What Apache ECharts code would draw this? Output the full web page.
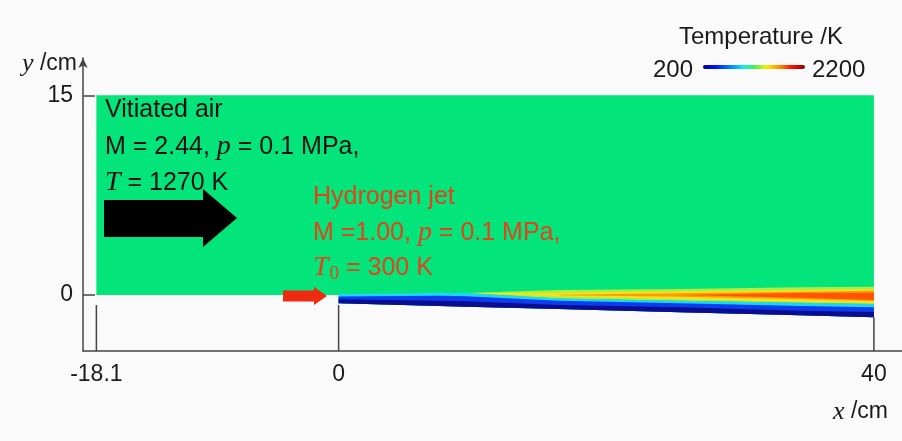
<!DOCTYPE html>
<html>
<head>
<meta charset="utf-8">
<script src="https://cdn.jsdelivr.net/npm/echarts@6/dist/echarts.min.js"></script>
<style>
html,body{margin:0;padding:0;background:#fafafa;}
#chart{width:902px;height:441px;}
</style>
</head>
<body>
<div id="chart"></div>
<script>
// ---- data (cm) ----
const xTickValues = [-18.1, 0, 40];
const yTickValues = [0, 15];
// computational domain outline
const domainX = [-18.1, 40, 40, 0, 0, -18.1];
const domainY = [15, 15, -1.67, -0.62, 0, 0];
// stations along the mixing layer
const xStations = [0, 7.5, 9.5, 16.5, 25.5, 34.5, 40];
const wallY     = [-0.62, -0.82, -0.87, -1.05, -1.29, -1.52, -1.67];
const navyTop   = [-0.32, -0.43, -0.47, -0.75, -0.92, -1.18, -1.28];
const blueTop   = [-0.10, -0.06, -0.08, -0.43, -0.62, -0.83, -0.92];
const cyanTop   = [0.08, 0.18, 0.16, -0.25, -0.43, -0.58, -0.68];
const warmTop   = [null, null, 0.16, 0.375, 0.45, 0.58, 0.63];
const yellowTop = [null, null, 0.16, 0.18, 0.28, 0.375, 0.43];
const yellowBot = [null, null, 0.16, -0.10, -0.32, -0.53, -0.62];
const orangeTop = [null, null, null, 0.02, 0.13, 0.25, 0.32];
const orangeBot = [null, null, null, -0.02, -0.13, -0.32, -0.45];
const redTop    = [null, null, null, null, 0.0, 0.15, 0.17];
const redBot    = [null, null, null, null, 0.0, -0.20, -0.375];
// x-axis marker lines (upper end)
const tickTopY = [-0.75, -0.75, -1.67];
// colour-bar range
const tempMin = 200, tempMax = 2200;

// ---- build ----
const bandTops = [warmTop, yellowTop, orangeTop, redTop, cyanTop, blueTop, navyTop];
const bandBots = [cyanTop, yellowBot, orangeBot, redBot, wallY, wallY, wallY];
const bandColors = ['#a8ef48', '#f2e31a', '#ff9a08', '#ff5500', '#1cd6f2', '#0b3cf0', '#0c0c8e'];

const chart = echarts.init(document.getElementById('chart'), null, {renderer: 'canvas'});
const axisColor = '#444';
const sans = 'Liberation Sans, Arial, Helvetica, sans-serif';
const serif = 'Liberation Serif, DejaVu Serif, serif';
const YMIN = -4.2;
const red = '#e4421c';

const option = {
  backgroundColor: '#fafafa',
  animation: false,
  grid: {left: 83, right: 0, top: 58, bottom: 90},
  xAxis: {
    type: 'value', min: -19.1, max: 42.1,
    axisLine: {show: true, onZero: false, lineStyle: {color: axisColor, width: 1.5}},
    axisTick: {show: false},
    splitLine: {show: false},
    axisLabel: {customValues: xTickValues, fontSize: 23, color: '#1a1a1a', fontFamily: sans, margin: 12,
      formatter: v => String(v)}
  },
  yAxis: {
    type: 'value', min: YMIN, max: 17.8,
    axisLine: {show: true, onZero: false, symbol: ['none', 'arrow'], symbolSize: [7, 10],
      lineStyle: {color: axisColor, width: 1.5}},
    axisTick: {show: true, inside: true, length: 12, customValues: yTickValues, lineStyle: {color: axisColor, width: 1.5}},
    splitLine: {show: false},
    axisLabel: {customValues: yTickValues, fontSize: 23, color: '#1a1a1a', fontFamily: sans, margin: 10,
      formatter: v => String(v)}
  },
  series: [
    {
      type: 'custom', clip: false, silent: true, z: 1,
      data: [[0, 0]],
      renderItem: function (params, api) {
        const pts = domainX.map((x, i) => api.coord([x, domainY[i]]));
        return {type: 'polygon', shape: {points: pts}, style: {fill: '#03e47b'}};
      }
    },
    {
      type: 'custom', clip: false, silent: true, z: 2,
      data: bandColors.map((c, i) => [i, 0]),
      renderItem: function (params, api) {
        const b = params.dataIndex;
        const top = bandTops[b], bot = bandBots[b];
        const up = [], low = [];
        for (let i = 0; i < xStations.length; i++) {
          if (top[i] === null) continue;
          up.push(api.coord([xStations[i], top[i]]));
          low.push(api.coord([xStations[i], bot[i]]));
        }
        return {type: 'polygon', shape: {points: up.concat(low.reverse())},
          style: {fill: bandColors[b]}};
      }
    },
    {
      type: 'custom', clip: false, silent: true, z: 3,
      data: xTickValues.map((x, i) => [x, tickTopY[i]]),
      renderItem: function (params, api) {
        const p1 = api.coord([api.value(0), api.value(1)]);
        const p2 = api.coord([api.value(0), YMIN]);
        return {type: 'line', shape: {x1: p1[0], y1: p1[1], x2: p2[0], y2: p2[1]},
          style: {stroke: axisColor, lineWidth: 1.5}};
      }
    }
  ],
  graphic: {
    elements: [
    // axis names
    {type: 'text', z: 100, x: 77, y: 64, style: {text: '{i|y} /cm', align: 'right', verticalAlign: 'middle',
      fontSize: 23, fontFamily: sans, fill: '#1a1a1a',
      rich: {i: {fontFamily: serif, fontStyle: 'italic', fontSize: 26, fill: '#1a1a1a'}}}},
    {type: 'text', z: 100, x: 888, y: 412, style: {text: '{i|x} /cm', align: 'right', verticalAlign: 'middle',
      fontSize: 23, fontFamily: sans, fill: '#1a1a1a',
      rich: {i: {fontFamily: serif, fontStyle: 'italic', fontSize: 26, fill: '#1a1a1a'}}}},
    // colour bar legend
    {type: 'text', z: 100, x: 761, y: 37, style: {text: 'Temperature /K', align: 'center', verticalAlign: 'middle',
      fontSize: 24, fontFamily: sans, fill: '#1a1a1a'}},
    {type: 'text', z: 100, x: 693, y: 70, style: {text: String(tempMin), align: 'right', verticalAlign: 'middle',
      fontSize: 24, fontFamily: sans, fill: '#1a1a1a'}},
    {type: 'text', z: 100, x: 812, y: 70, style: {text: String(tempMax), align: 'left', verticalAlign: 'middle',
      fontSize: 24, fontFamily: sans, fill: '#1a1a1a'}},
    {type: 'rect', z: 100, shape: {x: 703, y: 65, width: 102, height: 4, r: 2}, style: {fill: new echarts.graphic.LinearGradient(0, 0, 1, 0, [
      {offset: 0, color: '#000090'}, {offset: 0.12, color: '#0010ff'}, {offset: 0.3, color: '#00a0ff'},
      {offset: 0.4, color: '#10f0e0'}, {offset: 0.5, color: '#40f060'}, {offset: 0.62, color: '#f0f000'},
      {offset: 0.75, color: '#ff9000'}, {offset: 0.87, color: '#ff1000'}, {offset: 1, color: '#900000'}])}},
    // vitiated air annotation
    {type: 'text', z: 100, x: 105, y: 110, style: {text: 'Vitiated air', verticalAlign: 'middle',
      fontSize: 25, fontFamily: sans, fill: '#111'}},
    {type: 'text', z: 100, x: 105, y: 147, style: {text: 'M = 2.44, {i|p} = 0.1 MPa,', verticalAlign: 'middle',
      fontSize: 25, fontFamily: sans, fill: '#111',
      rich: {i: {fontFamily: serif, fontStyle: 'italic', fontSize: 28, fill: '#111'}}}},
    {type: 'text', z: 100, x: 105, y: 183, style: {text: '{i|T} = 1270 K', verticalAlign: 'middle',
      fontSize: 25, fontFamily: sans, fill: '#111',
      rich: {i: {fontFamily: serif, fontStyle: 'italic', fontSize: 28, fill: '#111'}}}},
    {type: 'polygon', z: 100, shape: {points: [[104, 200], [203, 200], [203, 189], [237, 218], [203, 247], [203, 237], [104, 237]]},
      style: {fill: '#000'}},
    // hydrogen jet annotation
    {type: 'text', z: 100, x: 313, y: 197, style: {text: 'Hydrogen jet', verticalAlign: 'middle',
      fontSize: 25, fontFamily: sans, fill: red}},
    {type: 'text', z: 100, x: 313, y: 233, style: {text: 'M =1.00, {i|p} = 0.1 MPa,', verticalAlign: 'middle',
      fontSize: 25, fontFamily: sans, fill: red,
      rich: {i: {fontFamily: serif, fontStyle: 'italic', fontSize: 28, fill: red}}}},
    {type: 'text', z: 100, x: 313, y: 268, style: {text: '{i|T}{s|0} = 300 K', verticalAlign: 'middle',
      fontSize: 25, fontFamily: sans, fill: red,
      rich: {i: {fontFamily: serif, fontStyle: 'italic', fontSize: 28, fill: red},
             s: {fontFamily: serif, fontSize: 19, fill: red, padding: [12, 0, 0, 1]}}}},
    {type: 'polygon', z: 100, shape: {points: [[283, 290.5], [314, 290.5], [314, 287], [327, 296], [314, 305], [314, 301.5], [283, 301.5]]},
      style: {fill: '#f02a10'}}
    ]
  }
};
chart.setOption(option);
</script>
</body>
</html>
